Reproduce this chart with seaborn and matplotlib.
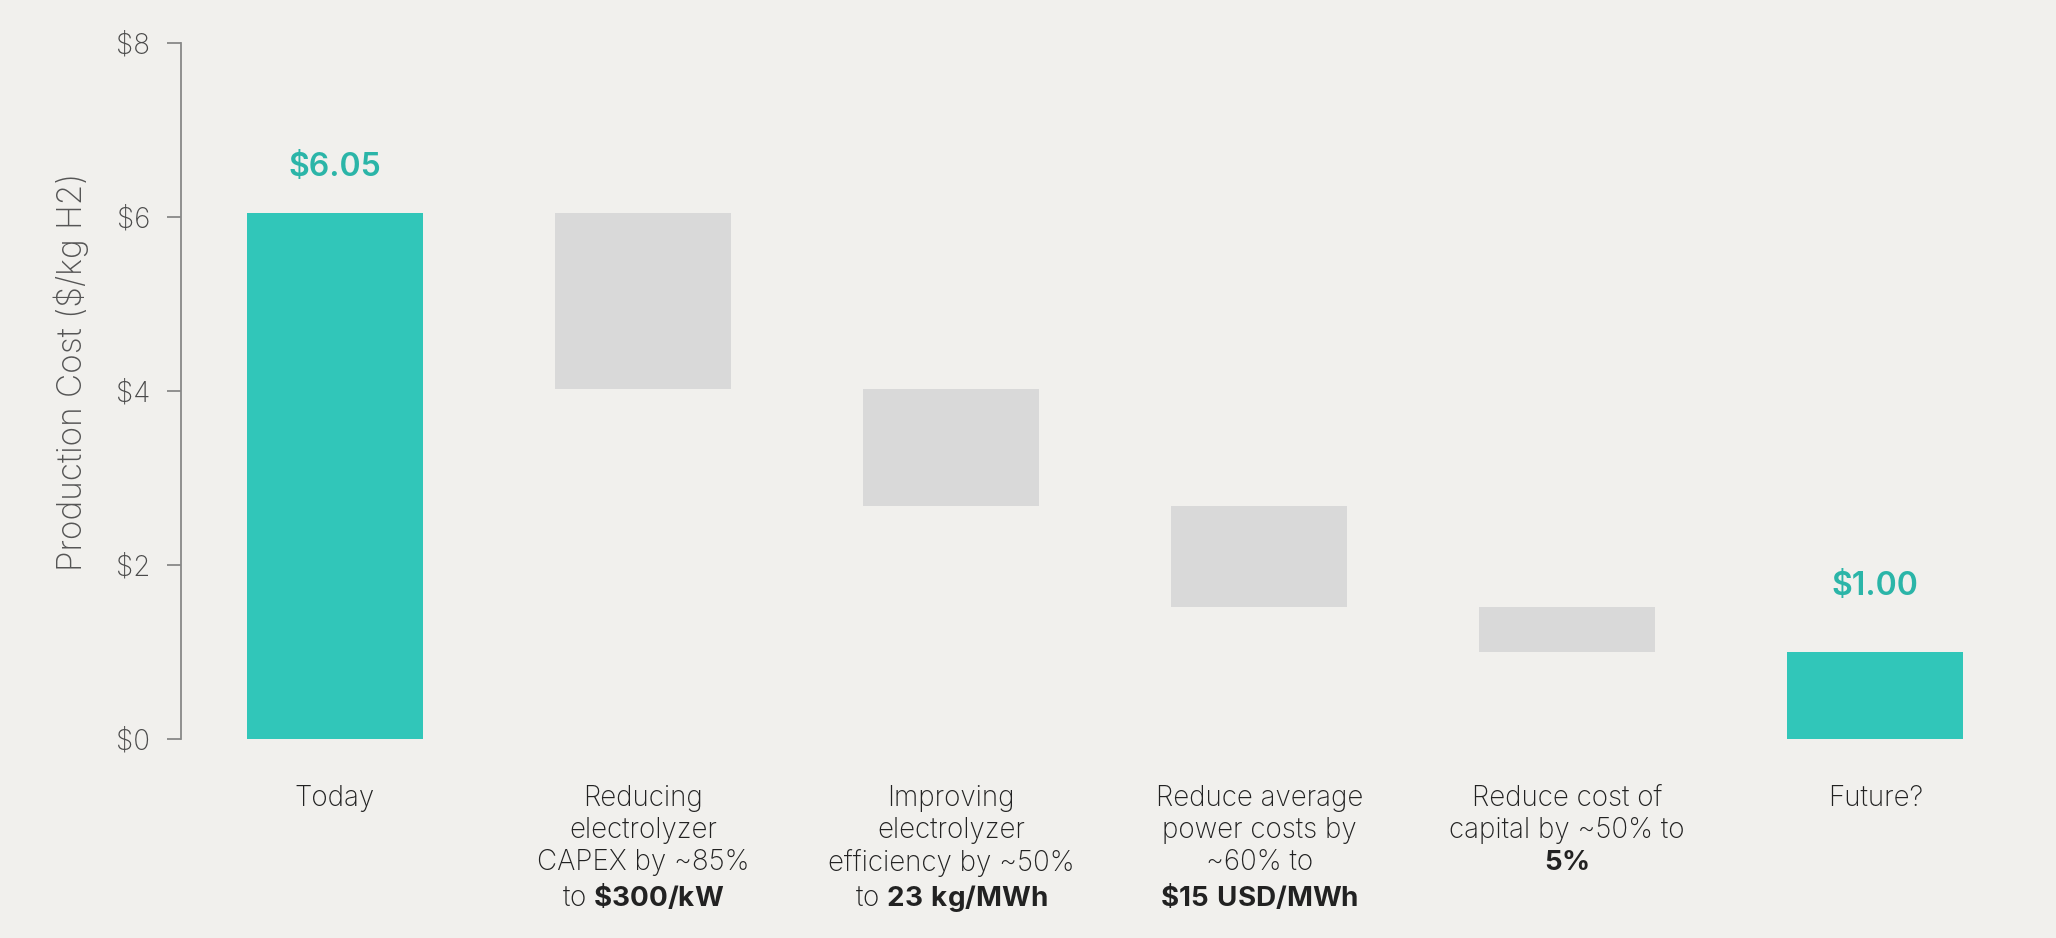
import matplotlib
matplotlib.use('Agg')
import matplotlib.pyplot as plt
import seaborn as sns

# Data: waterfall steps (start, reductions, end)
categories = [
    'Today',
    'Reducing\nelectrolyzer\nCAPEX by ~85%\nto $\\mathbf{\\$300/kW}$',
    'Improving\nelectrolyzer\nefficiency by ~50%\nto $\\mathbf{23\\ kg/MWh}$',
    'Reduce average\npower costs by\n~60% to\n$\\mathbf{\\$15\\ USD/MWh}$',
    'Reduce cost of\ncapital by ~50% to\n$\\mathbf{5\\%}$',
    'Future?',
]
bar_tops = [6.05, 6.05, 4.03, 2.68, 1.52, 1.00]
bar_bottoms = [0.00, 4.03, 2.68, 1.52, 1.00, 0.00]
totals = ['Today', 'Future?']
total_values = [6.05, 1.00]
y_ticks = [0, 2, 4, 6, 8]

TEAL = '#31c6b9'
TEAL_TEXT = '#2bb5a8'
GREY = '#d9d9d9'
BG = '#f1f0ed'

sns.set_theme(style='white')
plt.rcParams['font.family'] = ['Inter', 'DejaVu Sans']
plt.rcParams['mathtext.fontset'] = 'custom'
plt.rcParams['mathtext.bf'] = 'Inter:bold'
plt.rcParams['mathtext.rm'] = 'Inter'

fig = plt.figure(figsize=(20.56, 9.38), dpi=100, facecolor=BG)
ax = fig.add_axes([0.088, 0.212, 0.899, 0.742])
ax.set_facecolor(BG)

heights = [t - b for t, b in zip(bar_tops, bar_bottoms)]
sns.barplot(x=list(range(len(categories))), y=heights, bottom=bar_bottoms,
            color=TEAL, width=0.57, errorbar=None, saturation=1,
            linewidth=0, ax=ax)

for patch, cat in zip(ax.patches, categories):
    patch.set_facecolor(TEAL if cat in totals else GREY)

# Value labels on the total bars
label_pad = {'Today': 0.52, 'Future?': 0.76}
for cat, val in zip(totals, total_values):
    i = categories.index(cat)
    ax.text(i, val + label_pad[cat], f'${val:.2f}', ha='center', va='center',
            fontsize=23, fontweight='semibold', color=TEAL_TEXT)

ax.set_xlim(-0.5, 5.5)
ax.set_ylim(0, 8)
ax.set_yticks(y_ticks)
ax.set_yticklabels([f'${v}' for v in y_ticks], fontsize=20, color='#4a4a4a',
                   fontweight='light')
ax.set_xticks(range(len(categories)))
ax.set_xticklabels(categories, fontsize=20, color='#222222', fontweight='light',
                   linespacing=1.24, va='top')
ax.tick_params(axis='x', length=0, pad=33)
ax.tick_params(axis='y', length=10, width=1.3, color='#888888', pad=12, left=True)

ax.set_ylabel('Production Cost ($/kg H2)', fontsize=24, color='#555555',
              fontweight='light')
ax.yaxis.set_label_coords(-0.050, 0.527)

for side in ['top', 'right', 'bottom']:
    ax.spines[side].set_visible(False)
ax.spines['left'].set_color('#888888')
ax.spines['left'].set_linewidth(1.3)

fig.savefig('out.png', dpi=100, facecolor=BG)
